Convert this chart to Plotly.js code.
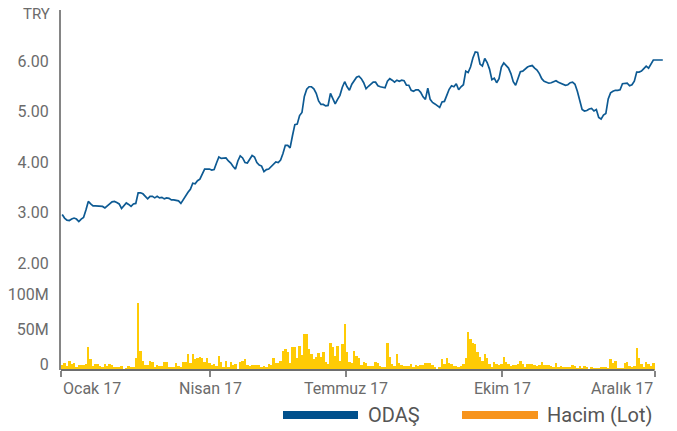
<!DOCTYPE html>
<html>
<head>
<meta charset="utf-8">
<script src="https://cdn.plot.ly/plotly-3.0.1.min.js"></script>
<style>html,body{margin:0;padding:0;background:#fff;}#chart{width:677px;height:431px;}</style>
</head>
<body>
<div id="chart"></div>
<script>
// ODAŞ closing price (TRY), one value per trading day
const priceValues = [2.96,2.89,2.85,2.84,2.87,2.89,2.87,2.82,2.87,2.90,
3.05,3.22,3.17,3.13,3.13,3.13,3.13,3.12,3.09,3.14,
3.17,3.21,3.22,3.20,3.17,3.08,3.14,3.19,3.16,3.12,
3.17,3.18,3.39,3.39,3.37,3.31,3.27,3.32,3.32,3.29,
3.32,3.29,3.30,3.27,3.29,3.28,3.25,3.25,3.24,3.23,
3.18,3.26,3.33,3.40,3.46,3.58,3.57,3.63,3.66,3.76,
3.86,3.86,3.86,3.84,3.85,3.98,4.10,4.07,4.08,4.08,
4.02,3.98,3.91,3.86,4.02,4.12,4.08,3.99,3.98,4.05,
4.13,4.10,3.99,3.94,3.92,3.81,3.85,3.86,3.91,3.97,
4.00,3.99,4.04,4.17,4.33,4.33,4.28,4.52,4.74,4.75,
4.92,4.98,5.30,5.44,5.49,5.49,5.45,5.36,5.21,5.14,
5.14,5.11,5.12,5.36,5.24,5.15,5.24,5.32,5.48,5.59,
5.49,5.42,5.54,5.60,5.68,5.70,5.65,5.57,5.45,5.50,
5.54,5.58,5.58,5.51,5.49,5.48,5.47,5.60,5.65,5.62,
5.58,5.62,5.60,5.62,5.61,5.52,5.52,5.42,5.40,5.43,
5.43,5.38,5.29,5.24,5.46,5.24,5.18,5.15,5.12,5.08,
5.19,5.20,5.32,5.44,5.51,5.49,5.55,5.43,5.49,5.53,
5.80,5.77,5.88,6.06,6.18,6.17,5.94,5.90,6.05,5.97,
5.84,5.63,5.66,5.57,5.65,5.88,5.96,5.90,5.86,5.75,
5.59,5.52,5.68,5.79,5.80,5.85,5.88,5.90,5.91,5.86,
5.82,5.75,5.65,5.60,5.58,5.56,5.57,5.59,5.61,5.58,
5.56,5.53,5.52,5.53,5.57,5.58,5.54,5.40,5.20,5.04,
5.01,5.02,5.05,5.06,5.01,5.04,4.88,4.85,4.93,4.96,
5.25,5.37,5.40,5.42,5.42,5.43,5.55,5.56,5.56,5.51,
5.53,5.60,5.78,5.78,5.80,5.85,5.90,5.86,5.94,6.02,
6.02,6.02,6.02,6.02];

// Trading volume (lots), in millions
const volumeMillions = [7.1,10.5,5.7,12.9,8.1,10.5,4.8,7.6,7.6,7.6,
9,33,16,5.7,9,9,5.2,4.3,9,5.7,
8.6,7.6,3.8,4.8,4.8,6.2,1,3.3,6.2,4.3,
4.8,17.6,96,27.6,12.9,7.1,7.1,12.9,11.9,4.8,
7.1,5.7,5.7,11.4,11.4,4.8,4.8,3.8,10,5.7,
4.8,11.4,11.4,22.9,10.5,22.9,16,17.1,18.6,17.6,
11.4,17.6,10,7.1,8.6,5.7,20,11.4,4.8,12.9,
4.8,11.4,7.6,8.6,1,11.9,12.9,15.7,7.1,5.7,
7.1,7.1,7.1,7.1,4.3,
5.7,4.3,8.6,7.6,17.1,9.5,9.5,12.4,27,30,
25.7,9.5,32.9,32.9,17.1,34.3,21.4,51.4,51.4,30,
22.9,15.7,18.6,24.3,18.6,25.7,11.4,8.6,38.6,32.9,
20,34.3,12.9,37.1,65.7,25.7,11.4,10,27,20,
17.1,7.1,11.4,10,5.7,5.7,5.7,11.4,10,5.7,
4.8,4.3,38.6,18.6,8.6,5.7,22.9,10,7.1,5.7,
5.7,5.7,8.6,4.3,7.1,5.7,7.1,7.1,10,10,
10,7.1,4.3,1.4,4.3,15.7,9,17.1,10,8.6,
5.7,
5.7,4.3,5.7,8.6,17.1,54.3,44.3,38.6,37.1,25.7,
18.6,12.9,22.9,17.1,8.6,4.3,11.4,8.6,7.1,8.6,
18.6,11.4,8.6,5.7,7.1,7.1,8.6,12.9,8.6,4.3,
8.6,8.6,8.6,7.1,5.7,7.1,11.4,7.1,7.1,7.1,
5.7,4.3,10,4.3,5.7,4.3,4.3,4.3,4.3,7.1,
5.7,2.9,5.7,3.3,5.7,4.3,1,4.3,2.9,2.9,
2.9,4.3,4.3,4.3,2.9,15.7,10,12.9,2.9,2.9,
2.9,10,11.4,5.7,4.3,5.7,31.4,17.1,8.6,4.3,
11.4,8.6,5.7,10];

const tickLabels = ["Ocak 17", "Nisan 17", "Temmuz 17", "Ekim 17", "Aralık 17"];
const tickPositions = [-0.5, 62.3, 119.6, 185.3, 249.5];
const priceTicks = [2, 3, 4, 5, 6];
const priceTickText = ["2.00", "3.00", "4.00", "5.00", "6.00"];
const volumeTicks = [0, 50, 100];
const volumeTickText = ["0", "50M", "100M"];
const seriesNames = ["ODAŞ", "Hacim (Lot)"];

const priceX = priceValues.map((_, i) => i);
const volX = volumeMillions.map((_, i) => i);

const FONT = "Roboto, 'Open Sans', sans-serif";
const TXT = "#6b6b6b";
const AXC = "#858585";

const traces = [
  {
    type: "bar", x: volX, y: volumeMillions, xaxis: "x", yaxis: "y2",
    marker: {color: "#ffcb05", line: {width: 0}}, width: 1,
    name: seriesNames[1], hoverinfo: "skip"
  },
  {
    type: "scatter", mode: "lines", x: priceX, y: priceValues, xaxis: "x", yaxis: "y",
    line: {color: "#0d5a93", width: 1.7}, name: seriesNames[0], hoverinfo: "skip"
  }
];

const W = 603; // plot width in px
const split = 88 / 360;

const annotations = tickLabels.map((t, i) => ({
  text: t, x: tickPositions[i], xref: "x", y: 0, yref: "paper",
  xanchor: i === 0 ? "left" : (i === tickLabels.length - 1 ? "right" : "center"),
  yanchor: "top", yshift: -7, showarrow: false,
  font: {family: FONT, size: 16, color: TXT}
}));
annotations.push({
  text: "TRY", x: -9 / W, xref: "paper", y: 1, yref: "paper",
  xanchor: "right", yanchor: "middle", yshift: -4, showarrow: false,
  font: {family: FONT, size: 15, color: TXT}
});
annotations.push({
  text: seriesNames[0], x: (366 - 61) / W, xref: "paper", y: -45 / 360, yref: "paper",
  xanchor: "left", yanchor: "middle", showarrow: false,
  font: {family: FONT, size: 20, color: "#555"}
});
annotations.push({
  text: seriesNames[1], x: (545 - 61) / W, xref: "paper", y: -45 / 360, yref: "paper",
  xanchor: "left", yanchor: "middle", showarrow: false,
  font: {family: FONT, size: 20, color: "#555"}
});

const shapes = [
  {type: "line", xref: "x", x0: -0.5, x1: volumeMillions.length - 0.5, yref: "paper", y0: 0, y1: 0,
   line: {color: "#6e6e6e", width: 2}},
  {type: "line", xref: "paper", x0: (283 - 61) / W, x1: (358 - 61) / W, yref: "paper", y0: -45 / 360, y1: -45 / 360,
   line: {color: "#00508c", width: 8}},
  {type: "line", xref: "paper", x0: (462 - 61) / W, x1: (538 - 61) / W, yref: "paper", y0: -45 / 360, y1: -45 / 360,
   line: {color: "#f7941d", width: 8}}
];

const layout = {
  width: 677, height: 431,
  margin: {l: 61, r: 13, t: 10, b: 61, pad: 0},
  paper_bgcolor: "#fff", plot_bgcolor: "#fff",
  showlegend: false, bargap: 0,
  font: {family: FONT, color: TXT},
  xaxis: {
    type: "linear", range: [-0.5, priceValues.length - 0.5], anchor: "y2",
    showline: false, showgrid: false, zeroline: false,
    tickmode: "array", tickvals: tickPositions, ticks: "outside", ticklen: 6, tickwidth: 2, tickcolor: AXC,
    showticklabels: false, fixedrange: true
  },
  yaxis: {
    domain: [split, 1], range: [1.624, 7.01], anchor: "x",
    tickmode: "array", tickvals: priceTicks, ticktext: priceTickText,
    showline: true, linecolor: AXC, linewidth: 2, showgrid: false, zeroline: false,
    ticks: "", ticklabelstandoff: 7,
    tickfont: {family: FONT, size: 16, color: TXT}
  },
  yaxis2: {
    domain: [0, split], range: [0, 88 / 0.7], anchor: "x",
    tickmode: "array", tickvals: volumeTicks, ticktext: volumeTickText,
    showline: true, linecolor: AXC, linewidth: 2, showgrid: false, zeroline: false,
    ticks: "", ticklabelstandoff: 7, ticklabelshift: -6,
    tickfont: {family: FONT, size: 16, color: TXT}
  },
  annotations: annotations,
  shapes: shapes
};

Plotly.newPlot("chart", traces, layout, {staticPlot: true, displayModeBar: false});
</script>
</body>
</html>
